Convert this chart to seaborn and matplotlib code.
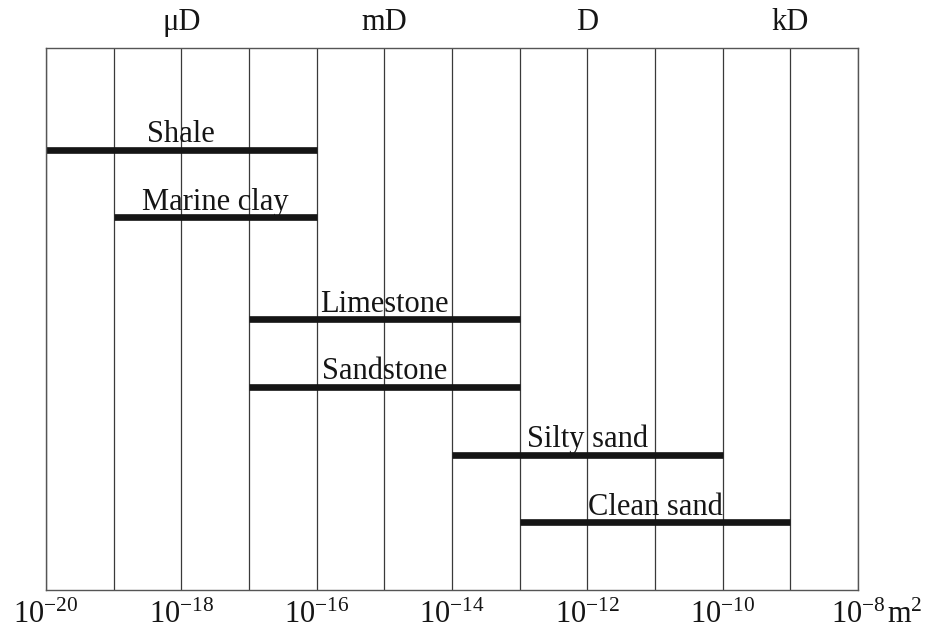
import numpy as np
import pandas as pd
import matplotlib
matplotlib.use("Agg")
import matplotlib.pyplot as plt
import seaborn as sns

# permeability ranges in m^2
materials = ["Shale", "Marine clay", "Limestone", "Sandstone", "Silty sand", "Clean sand"]
k_low = [1e-20, 1e-19, 1e-17, 1e-17, 1e-14, 1e-13]
k_high = [1e-16, 1e-16, 1e-13, 1e-13, 1e-10, 1e-9]
rows = [1.5, 2.5, 4.0, 5.0, 6.0, 7.0]

bottom_ticks = [1e-20, 1e-18, 1e-16, 1e-14, 1e-12, 1e-10, 1e-8]
bottom_labels = [r"$10^{-20}$", r"$10^{-18}$", r"$10^{-16}$", r"$10^{-14}$",
                 r"$10^{-12}$", r"$10^{-10}$", r"$10^{-8}$"]
darcy_ticks = [1e-18, 1e-15, 1e-12, 1e-9]
darcy_labels = ["μD", "mD", "D", "kD"]

sns.set_theme(style="white")
plt.rcParams["font.family"] = ["Liberation Serif", "DejaVu Serif"]
plt.rcParams["mathtext.fontset"] = "custom"
plt.rcParams["mathtext.rm"] = "Liberation Serif"
plt.rcParams["mathtext.it"] = "Liberation Serif:italic"

FS = 22
INK = "#151515"

df = pd.DataFrame({
    "material": materials * 2,
    "k": k_low + k_high,
    "row": rows * 2,
})

fig = plt.figure(figsize=(9.39, 6.31), dpi=100)
ax = fig.add_axes([46 / 939, 41 / 631, 812 / 939, 542 / 631])

ax.set_xscale("log")
sns.lineplot(data=df, x="k", y="row", units="material", estimator=None,
             color=INK, lw=4.8, ax=ax, legend=False, solid_capstyle="butt")

for name, lo, hi, r in zip(materials, k_low, k_high, rows):
    ax.text(np.sqrt(lo * hi), r - 0.11, name, ha="center", va="baseline",
            fontsize=FS, color=INK)

ax.set_xlim(1e-20, 1e-8)
ax.set_ylim(8, 0)
ax.set_yticks([])
ax.set_xticks(bottom_ticks)
ax.set_xticklabels(bottom_labels, fontsize=FS)
ax.set_xticks([10.0 ** e for e in range(-20, -7)], minor=True)
ax.xaxis.set_minor_formatter(matplotlib.ticker.NullFormatter())
ax.tick_params(axis="x", which="both", length=0, pad=8, colors=INK)
ax.grid(True, axis="x", which="both", color="#3a3a3a", lw=0.9)
ax.set_xlabel("")
ax.set_ylabel("")
for s in ax.spines.values():
    s.set_color("#555555")
    s.set_linewidth(1.0)

# unit label next to the last tick
ax.annotate(r"m$^{\mathregular{2}}$", xy=(1e-8, 0), xycoords=("data", "axes fraction"),
            xytext=(21, -23.5), textcoords="offset points",
            ha="left", va="baseline", fontsize=FS, color=INK)

top = ax.twiny()
top.set_xscale("log")
top.set_xlim(ax.get_xlim())
top.set_xticks(darcy_ticks)
top.set_xticklabels(darcy_labels, fontsize=FS)
top.xaxis.set_minor_locator(matplotlib.ticker.NullLocator())
top.tick_params(axis="x", which="both", length=0, pad=8, colors=INK)
for s in top.spines.values():
    s.set_visible(False)

fig.savefig("out.png", dpi=100, facecolor="white")
